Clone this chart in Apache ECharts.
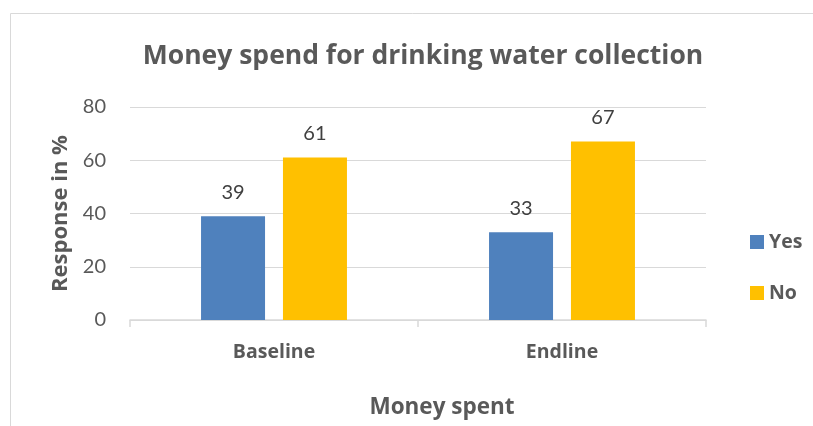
<!DOCTYPE html>
<html>
<head>
<meta charset="utf-8">
<script src="https://cdn.jsdelivr.net/npm/echarts@6/dist/echarts.min.js"></script>
<style>
  html, body { margin: 0; padding: 0; background: #fff; }
  #chart { width: 813px; height: 426px; }
</style>
</head>
<body>
<div id="chart"></div>
<script>
  const categories = ['Baseline', 'Endline']
  const yesValues = [39, 33]
  const noValues = [61, 67]

  // bold text looks closer in Open Sans, digits closer in Lato
  const boldFont = '"Open Sans", Lato, sans-serif'
  const numFont = 'Lato, "Open Sans", sans-serif'
  const chart = echarts.init(document.getElementById('chart'))

  chart.setOption({
    animation: false,
    textStyle: { fontFamily: numFont },
    graphic: [{
      type: 'rect',
      shape: { x: 10.5, y: 13.5, width: 900, height: 500 },
      style: { fill: 'none', stroke: '#d9d9d9', lineWidth: 1 },
      silent: true
    }],
    title: {
      text: 'Money spend for drinking water collection',
      left: 418,
      top: 38,
      textAlign: 'center',
      textStyle: { fontFamily: boldFont, fontSize: 26.5, fontWeight: 'bold', color: '#595959' }
    },
    legend: {
      data: ['Yes', 'No'],
      orient: 'vertical',
      left: 745,
      top: 227,
      itemWidth: 14,
      itemHeight: 14,
      itemGap: 31,
      icon: 'rect',
      textStyle: { fontFamily: boldFont, fontSize: 19.5, fontWeight: 'bold', color: '#595959' }
    },
    grid: { left: 130, right: 107, top: 107, bottom: 106 },
    xAxis: {
      type: 'category',
      data: categories,
      name: 'Money spent',
      nameLocation: 'middle',
      nameGap: 76,
      nameTextStyle: { fontFamily: boldFont, fontSize: 22.5, fontWeight: 'bold', color: '#595959', padding: [0, 0, 0, 48] },
      axisLine: { lineStyle: { color: '#d9d9d9', width: 1.5 } },
      axisTick: { show: true, length: 7, lineStyle: { color: '#d9d9d9', width: 1.5 } },
      axisLabel: { margin: 22, fontFamily: boldFont, fontSize: 19.5, fontWeight: 'bold', color: '#595959' }
    },
    yAxis: {
      type: 'value',
      min: 0,
      max: 80,
      interval: 20,
      name: 'Response in %',
      nameLocation: 'middle',
      nameGap: 55,
      nameTextStyle: { fontFamily: boldFont, fontSize: 22, fontWeight: 'bold', color: '#595959' },
      axisLine: { show: false },
      axisTick: { show: false },
      axisLabel: { margin: 24, fontFamily: numFont, fontSize: 20, color: '#595959' },
      splitLine: { lineStyle: { color: '#d9d9d9', width: 1 } }
    },
    series: [
      {
        name: 'Yes',
        type: 'bar',
        data: yesValues,
        barWidth: 64,
        barGap: '28%',
        itemStyle: { color: '#4F81BD' },
        label: { show: true, position: 'top', distance: 14, fontFamily: numFont, fontSize: 20, color: '#404040' }
      },
      {
        name: 'No',
        type: 'bar',
        data: noValues,
        barWidth: 64,
        itemStyle: { color: '#FFC000' },
        label: { show: true, position: 'top', distance: 14, fontFamily: numFont, fontSize: 20, color: '#404040' }
      }
    ]
  })
</script>
</body>
</html>
